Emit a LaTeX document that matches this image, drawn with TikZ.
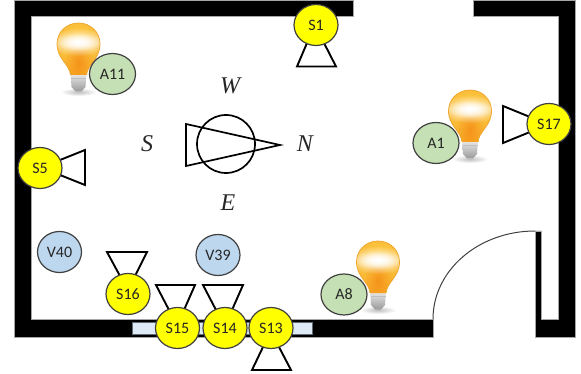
\documentclass[tikz,border=0pt]{standalone}
\usepackage{fontspec}
\setsansfont{Carlito}
\setmainfont{Liberation Serif}
\usetikzlibrary{shapes.geometric,fadings}
\definecolor{wallgrey}{HTML}{A6A6A6}
\definecolor{sens}{HTML}{FFFF00}
\definecolor{act}{HTML}{C5E0B4}
\definecolor{vent}{HTML}{BDD7EE}
\definecolor{edgec}{HTML}{404040}
\definecolor{glassA}{HTML}{F8AE28}
\definecolor{glassB}{HTML}{F5931A}
\definecolor{glassC}{HTML}{FFD24F}
\tikzfading[name=softspot,inner color=transparent!0,outer color=transparent!100]
\tikzset{
  wall/.style={fill=black,draw=wallgrey,line width=.6pt},
  dev/.style={ellipse,draw=edgec,line width=1.2pt,minimum width=44pt,minimum height=41pt,inner sep=0pt,font=\sffamily\fontsize{16}{18}\selectfont,text=black!85},
  sensor/.style={dev,fill=sens},
  actuator/.style={dev,fill=act,minimum width=46pt},
  valve/.style={dev,fill=vent},
  horn/.style={draw=black,line width=1.9pt,line join=miter,fill=white},
  compass/.style={draw=black,line width=1.7pt},
  cardinal/.style={font=\itshape\fontsize{24}{26}\selectfont,text=black!85,inner sep=0pt},
  bulb/.pic={
    \fill[black!25,path fading=softspot] (0,47) ellipse (18 and 4);
    \shade[top color=white!85!gray,bottom color=black!40] (-8,28) -- (8,28) -- (7,42) -- (3,46.5) -- (-3,46.5) -- (-7,42) -- cycle;
    \fill[black!25] (-7.5,33) rectangle (7.5,34);
    \fill[black!25] (-7,38) rectangle (7,39);
    \begin{scope}
    \clip (-8,30) .. controls (-9,19) and (-21.5,14) .. (-21.5,-1)
      .. controls (-21.5,-13) and (-12,-22) .. (0,-22)
      .. controls (12,-22) and (21.5,-13) .. (21.5,-1)
      .. controls (21.5,14) and (9,19) .. (8,30) -- cycle;
    \fill[glassA] (-25,-25) rectangle (25,32);
    \fill[glassC,path fading=softspot] (0,-4) ellipse (38 and 32);
    \fill[glassB,path fading=softspot] (0,18) ellipse (15 and 26);
    \fill[white,path fading=softspot] (0,-3) ellipse (32 and 14);
    \fill[white,path fading=softspot] (0,-3) ellipse (24 and 9);
    \end{scope}
    \draw[glassA!80!brown,line width=.7pt] (-8,30) .. controls (-9,19) and (-21.5,14) .. (-21.5,-1)
      .. controls (-21.5,-13) and (-12,-22) .. (0,-22)
      .. controls (12,-22) and (21.5,-13) .. (21.5,-1)
      .. controls (21.5,14) and (9,19) .. (8,30);
  }
}
\begin{document}
\begin{tikzpicture}[x=1pt,y=-1pt]
\useasboundingbox (0,0) rectangle (581,374);
% walls
\path[wall] (14,0) -- (353,0) -- (353,16) -- (31,16) -- (31,319) -- (433,319) -- (433,337) -- (14,337) -- cycle;
\path[wall] (473,0) -- (575,0) -- (575,337) -- (535,337) -- (535,231) -- (541,231) -- (541,319) -- (558,319) -- (558,16) -- (473,16) -- cycle;
% door leaf
\coordinate (doorA) at (433,319);
\coordinate (doorB) at (535,231);
\draw[edgec,line width=1pt] (doorA) .. controls (433,270) and (479,231) .. (doorB);
% window
\draw[draw=black!50!vent,fill=vent!50!white,line width=1pt] (132.5,322) rectangle (312.5,334);
% compass
\node[circle,compass,minimum size=58pt,inner sep=0pt] (dial) at (226,144) {};
\draw[compass,line join=miter] (186,124) -- (186,166) -- (280,145) -- cycle;
\node[cardinal] (w) at (230,86) {W};
\node[cardinal] (s) at (147,144) {S};
\node[cardinal] (n) at (305,144) {N};
\node[cardinal] (e) at (228,203) {E};
% bulbs
\pic at (78.5,45) {bulb};
\pic at (470,112) {bulb};
\pic at (378,263) {bulb};
% horns
\draw[horn] (307,43) -- (324,43) -- (336,66.5) -- (297,66.5) -- cycle;
\draw[horn] (530,117) -- (503,106) -- (503,143) -- (530,132) -- cycle;
\draw[horn] (60,160) -- (85,150) -- (85,185) -- (60,175) -- cycle;
\draw[horn] (120,276) -- (107,252) -- (147,252) -- (135,276) -- cycle;
\draw[horn] (169,310) -- (156,285) -- (195,285) -- (184,310) -- cycle;
\draw[horn] (216,310) -- (203,285) -- (243,285) -- (232,310) -- cycle;
\draw[horn] (263,347) -- (252,370) -- (291,370) -- (279,347) -- cycle;
% devices
\node[sensor] (S1) at (316,25) {S1};
\node[sensor] (S17) at (549,124) {S17};
\node[sensor] (S5) at (40,168) {S5};
\node[sensor] (S16) at (128,294) {S16};
\node[sensor] (S15) at (177.5,328) {S15};
\node[sensor] (S14) at (225,328) {S14};
\node[sensor] (S13) at (271,328) {S13};
\node[valve] (V40) at (59.5,252) {V40};
\node[valve] (V39) at (218,255) {V39};
\node[actuator] (A11) at (112.5,74) {A11};
\node[actuator] (A1) at (436,143) {A1};
\node[actuator] (A8) at (344,294.5) {A8};
\end{tikzpicture}
\end{document}
